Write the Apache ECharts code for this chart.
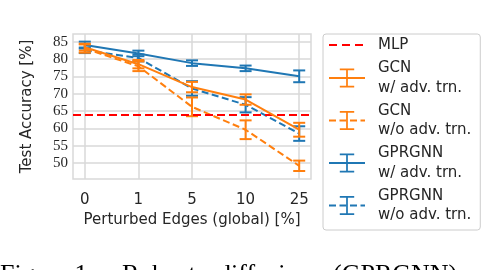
<!DOCTYPE html>
<html><head><meta charset="utf-8">
<script src="https://cdn.jsdelivr.net/npm/echarts@6/dist/echarts.min.js"></script>
<style>html,body{margin:0;padding:0;background:#fff}#c{width:484px;height:270px}</style>
</head><body><div id="c"></div>
<script>
// ---- data ----
const categories = ['0', '1', '5', '10', '25'];
const yTicks = [50, 55, 60, 65, 70, 75, 80, 85];
const mlpValue = 63.9;
const gcnWMean = [83.4, 78.5, 71.9, 68.3, 59.6];
const gcnWErr = [1.0, 1.2, 1.5, 1.5, 2.0];
const gcnWoMean = [83.0, 77.9, 66.2, 59.6, 49.2];
const gcnWoErr = [1.2, 1.4, 2.7, 2.7, 1.5];
const gprWMean = [84.0, 81.6, 78.8, 77.3, 75.0];
const gprWErr = [1.0, 0.8, 0.8, 0.8, 1.7];
const gprWoMean = [82.5, 80.3, 71.5, 66.8, 58.5];
const gprWoErr = [0.8, 1.0, 2.1, 2.2, 2.1];
const names = {
  mlp: 'MLP',
  gcnW: 'GCN\nw/ adv. trn.',
  gcnWo: 'GCN\nw/o adv. trn.',
  gprW: 'GPRGNN\nw/ adv. trn.',
  gprWo: 'GPRGNN\nw/o adv. trn.'
};
// ---- styles ----
const BLUE = '#1f77b4', ORANGE = '#ff7f0e', RED = '#ff0000';
const GRID = '#d9d9d9', TEXT = '#262626';
const DASH = [7, 3.5];
const IBEAM = 'path://M0,0h0.01v0.01h-0.01z M19.99,19.99h0.01v0.01h-0.01z M2.5,0H17.5V1.8H10.9V18.2H17.5V20H2.5V18.2H9.1V1.8H2.5Z';
const MLPICON = 'path://M0,0h0.01v0.01h-0.01z M35.99,19.99h0.01v0.01h-0.01z M0,9h8v2h-8z M13,9h8v2h-8z M26,9h8v2h-8z';
const idx = categories.map((_, i) => i);

function pairs(mean) { return mean.map((v, i) => [i, v]); }
function triples(mean, err) { return mean.map((v, i) => [i, v, err[i]]); }

function errRender(params, api) {
  const x = api.value(0), m = api.value(1), e = api.value(2);
  const top = api.coord([x, m + e]);
  const bot = api.coord([x, m - e]);
  const hw = 6;
  const style = { stroke: api.visual('color'), lineWidth: 2, fill: null };
  return {
    type: 'group',
    children: [
      { type: 'line', shape: { x1: top[0], y1: top[1], x2: bot[0], y2: bot[1] }, style },
      { type: 'line', shape: { x1: top[0] - hw, y1: top[1], x2: top[0] + hw, y2: top[1] }, style },
      { type: 'line', shape: { x1: bot[0] - hw, y1: bot[1], x2: bot[0] + hw, y2: bot[1] }, style }
    ]
  };
}

function lineSeries(name, mean, color, dashed, z) {
  return {
    name, type: 'line', data: pairs(mean), z,
    symbol: IBEAM, showSymbol: false, silent: true,
    itemStyle: { color },
    lineStyle: { color, width: 2, type: dashed ? DASH : 'solid' }
  };
}
function errSeries(id, mean, err, color, z) {
  return {
    name: id, type: 'custom', data: triples(mean, err), z,
    renderItem: errRender, itemStyle: { color }, silent: true,
    encode: { x: 0, y: 1 }
  };
}

const axisFont = { fontFamily: 'DejaVu Sans', fontSize: 15, color: TEXT };
const capFont = '26px "Liberation Serif"';

const option = {
  animation: false,
  grid: { left: 73, top: 34, width: 238, height: 145, show: true, borderColor: GRID, borderWidth: 1.5, backgroundColor: '#fff' },
  xAxis: {
    type: 'value', min: -0.22, max: 4.22,
    axisLine: { show: false },
    axisTick: { show: false, customValues: idx },
    axisLabel: { customValues: idx, formatter: v => categories[Math.round(v)], margin: 14, ...axisFont },
    splitLine: { show: true, lineStyle: { color: GRID, width: 1.5 } },
    name: 'Perturbed Edges (global) [%]', nameLocation: 'middle', nameGap: 33,
    nameTextStyle: axisFont
  },
  yAxis: {
    type: 'value', min: 45.4, max: 87.2,
    axisLine: { show: false },
    axisTick: { show: false, customValues: yTicks },
    axisLabel: { customValues: yTicks, margin: 5, fontFamily: 'Liberation Serif', fontSize: 15, color: TEXT },
    splitLine: { show: true, lineStyle: { color: GRID, width: 1.5 } },
    name: 'Test Accuracy [%]', nameLocation: 'middle', nameGap: 38,
    nameTextStyle: axisFont
  },
  legend: {
    orient: 'vertical', left: 323, top: 34,
    itemWidth: 36, itemHeight: 24, itemGap: 3.5,
    padding: [1, 9, 5, 5],
    backgroundColor: '#fff', borderColor: '#cccccc', borderWidth: 1, borderRadius: 3,
    selectedMode: false,
    textStyle: { fontFamily: 'DejaVu Sans', fontSize: 15, color: TEXT, lineHeight: 19.5, padding: [0, 0, 0, 8] },
    data: [
      { name: names.mlp, icon: MLPICON },
      names.gcnW, names.gcnWo, names.gprW, names.gprWo
    ]
  },
  series: [
    lineSeries(names.gprW, gprWMean, BLUE, false, 2),
    errSeries('e1', gprWMean, gprWErr, BLUE, 2),
    lineSeries(names.gprWo, gprWoMean, BLUE, true, 3),
    errSeries('e2', gprWoMean, gprWoErr, BLUE, 3),
    lineSeries(names.gcnWo, gcnWoMean, ORANGE, true, 4),
    errSeries('e3', gcnWoMean, gcnWoErr, ORANGE, 4),
    lineSeries(names.gcnW, gcnWMean, ORANGE, false, 5),
    errSeries('e4', gcnWMean, gcnWErr, ORANGE, 5),
    {
      name: names.mlp, type: 'line', data: [], z: 6, silent: true,
      itemStyle: { color: RED }, lineStyle: { color: RED, width: 2, type: [8, 4] },
      markLine: {
        silent: true, symbol: 'none', label: { show: false },
        lineStyle: { color: RED, width: 2, type: [8, 4] },
        data: [{ yAxis: mlpValue }]
      }
    }
  ],
  graphic: [
    { type: 'text', left: 0, top: 262, silent: true, style: { text: 'Figure 1:', font: capFont, fill: '#000' } },
    { type: 'text', left: 122, top: 262, silent: true, style: { text: 'Robust', font: capFont, fill: '#000' } },
    { type: 'text', left: 218, top: 262, silent: true, style: { text: 'diffusion', font: capFont, fill: '#000' } },
    { type: 'text', left: 333, top: 262, silent: true, style: { text: '(GPRGNN)', font: capFont, fill: '#000' } }
  ]
};
const chart = echarts.init(document.getElementById('c'), null, { renderer: 'canvas' });
chart.setOption(option);
</script>
</body></html>
